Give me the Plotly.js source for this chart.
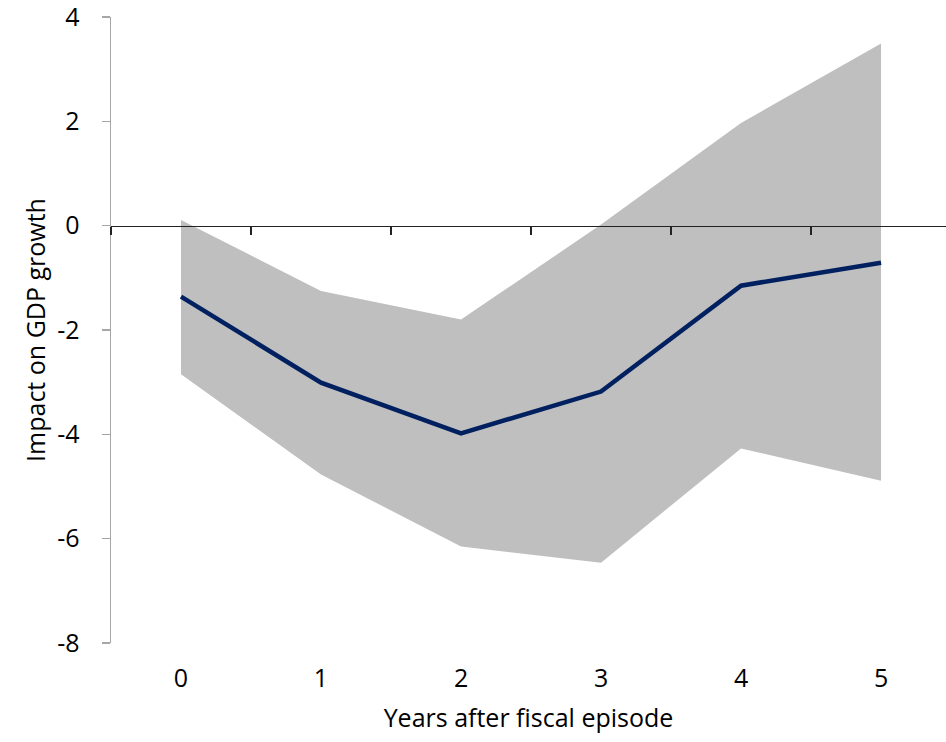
<!DOCTYPE html>
<html>
<head>
<meta charset="utf-8">
<script src="https://cdn.plot.ly/plotly-3.0.1.min.js"></script>
<style>html,body{margin:0;padding:0;background:#fff;}#chart{width:946px;height:742px;}</style>
</head>
<body>
<div id="chart"></div>
<script>
const years = [0, 1, 2, 3, 4, 5];
const upperBand = [0.11, -1.25, -1.80, 0.02, 1.97, 3.49];
const lowerBand = [-2.85, -4.77, -6.15, -6.46, -4.27, -4.89];
const impact = [-1.36, -3.01, -3.98, -3.18, -1.15, -0.71];
const boundaryTicks = [-0.5, 0.5, 1.5, 2.5, 3.5, 4.5];
const yTicks = [-8, -6, -4, -2, 0, 2, 4];
const yTickLabels = ['-8', '-6', '-4', '-2', '0', '2', '4'];

const font = "'Open Sans', Lato, sans-serif";

const traces = [
  {x: years, y: lowerBand, type: 'scatter', mode: 'lines', line: {width: 0, color: 'rgba(0,0,0,0)'}, hoverinfo: 'skip', showlegend: false},
  {x: years, y: upperBand, type: 'scatter', mode: 'lines', fill: 'tonexty', fillcolor: '#BFBFBF', line: {width: 0, color: 'rgba(0,0,0,0)'}, hoverinfo: 'skip', showlegend: false},
  {x: years, y: impact, type: 'scatter', mode: 'lines', line: {color: '#002060', width: 4.5}, showlegend: false},
  {x: [boundaryTicks[0]], y: [0], xaxis: 'x2', type: 'scatter', mode: 'markers', marker: {opacity: 0}, hoverinfo: 'skip', showlegend: false}
];

const layout = {
  width: 946, height: 742,
  margin: {l: 111, r: 0, t: 17, b: 99},
  paper_bgcolor: '#fff', plot_bgcolor: '#fff',
  font: {family: font, size: 25, color: '#000'},
  showlegend: false,
  xaxis: {
    range: [-0.5, 5.464], tickvals: years, ticktext: years.map(String),
    showgrid: false, zeroline: false, showline: false, ticks: '',
    ticklabelstandoff: 18, ticklabeloverflow: 'allow',
    title: {text: 'Years after fiscal episode', font: {size: 25}, standoff: 16}
  },
  xaxis2: {
    overlaying: 'x', anchor: 'free', position: 8 / 12, side: 'bottom',
    range: [-0.5, 5.464], tickvals: boundaryTicks, showticklabels: false,
    ticks: 'outside', ticklen: 8, tickwidth: 1.5, tickcolor: '#222',
    showline: true, linecolor: '#222', linewidth: 1.5, showgrid: false, zeroline: false
  },
  yaxis: {
    range: [-8, 4], tickvals: yTicks, ticktext: yTickLabels, showgrid: false, zeroline: false,
    showline: true, linecolor: '#A6A6A6', linewidth: 1.5,
    ticks: 'outside', ticklen: 8, tickcolor: '#A6A6A6', tickwidth: 1.5,
    ticklabelstandoff: 17, ticklabeloverflow: 'allow',
    title: {text: 'Impact on GDP growth', font: {size: 25}, standoff: 4}
  }
};

Plotly.newPlot('chart', traces, layout, {displayModeBar: false, staticPlot: true});
</script>
</body>
</html>
